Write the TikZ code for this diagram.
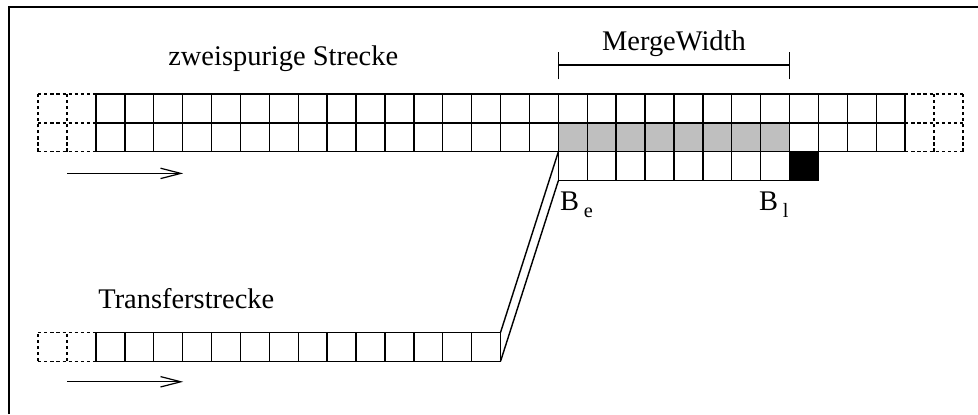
\documentclass[tikz,border=0pt]{standalone}
\usepackage{fontspec}
\setmainfont{Liberation Serif}
\usetikzlibrary{arrows.meta}

\tikzset{
  laneline/.style={line width=0.7pt, step=0.5cm},
  ghostline/.style={line width=0.7pt, step=0.5cm, dash pattern=on 1.6pt off 1.4pt},
  flow/.style={line width=0.6pt, -{Straight Barb[length=3.5mm,width=1.8mm,line width=0.6pt]}},
  lbl/.style={inner sep=0pt, font=\fontsize{14}{16}\selectfont},
}

\begin{document}
\begin{tikzpicture}[x=0.5cm,y=0.5cm]

    \useasboundingbox (-3.32,-9.08) rectangle (30.52,5.25);
    \draw [line width=1pt] (-3,-9.08) -- (-3,5) -- (30.52,5);

    % zweispurige Strecke
    \fill [gray!50] (16,0) rectangle (24,1);
    \draw [ghostline] (-2,0) grid (0,2);
    \draw [ghostline] (28,0) grid (30,2);
    \draw [laneline] (0,0) grid (28,2);

    % Beschleunigungsstreifen
    \fill (24,-1) rectangle (25,0);
    \draw [laneline] (16,-1) grid (25,0);

    \node [lbl, anchor=base west] (strecke) at (2.49,3) {zweispurige Strecke};

    % MergeWidth
    \coordinate (mwl) at (16,3);
    \coordinate (mwr) at (24,3);
    \draw [laneline] (mwl) -- (mwr);
    \draw [laneline] ([yshift=-0.25cm]mwl) -- ([yshift=0.23cm]mwl);
    \draw [laneline] ([yshift=-0.25cm]mwr) -- ([yshift=0.23cm]mwr);
    \node [lbl, anchor=base] (mw) at (20,3.5) {MergeWidth};

    \node [lbl, anchor=base west] (be) at (16.05,-2.02) {B\,\raisebox{-0.55ex}{\fontsize{10}{12}\selectfont e}};
    \node [lbl, anchor=base west] (bl) at (22.93,-2.02) {B\,\raisebox{-0.55ex}{\fontsize{10}{12}\selectfont l}};

    % Transferstrecke
    \begin{scope}[shift={(0,-7.25)}]
      \draw [ghostline] (-2,0) grid (0,1);
      \draw [laneline] (0,0) grid (14,1);
      \coordinate (tro) at (14,1);
      \coordinate (tru) at (14,0);
    \end{scope}
    \node [lbl, anchor=base west] (transfer) at (0.07,-5.44) {Transferstrecke};

    \coordinate (bso) at (16,0);
    \coordinate (bsu) at (16,-1);
    \draw [laneline] (tro) -- (bso);
    \draw [laneline] (tru) -- (bsu);

    % Fahrtrichtung
    \coordinate (a1) at (-1,-0.75);
    \coordinate (a2) at (3.02,-0.75);
    \coordinate (a3) at (-1,-7.96);
    \coordinate (a4) at (3.02,-7.96);
    \draw [flow] (a1) -- (a2);
    \draw [flow] (a3) -- (a4);

\end{tikzpicture}
\end{document}
